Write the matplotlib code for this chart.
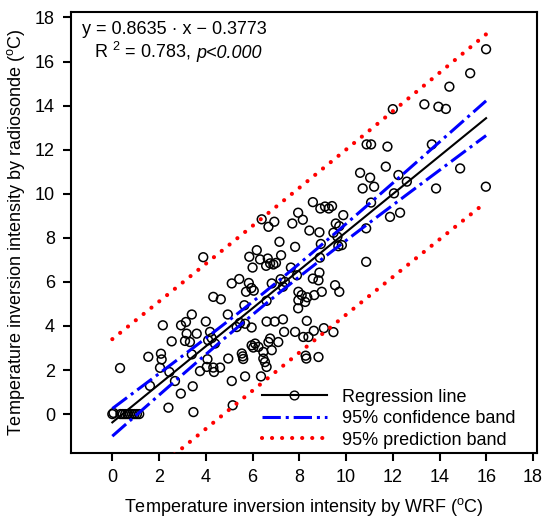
import numpy as np
import matplotlib.pyplot as plt
from matplotlib.lines import Line2D

plt.rcParams['font.family'] = ['Liberation Sans', 'DejaVu Sans']
plt.rcParams['mathtext.fontset'] = 'custom'
plt.rcParams['mathtext.rm'] = 'Liberation Sans'
plt.rcParams['mathtext.it'] = 'Liberation Sans:italic'

# inversion intensity pairs (WRF, radiosonde)
wrf = [0.0, 0.05, 0.35, 0.45, 0.55, 0.65, 0.75, 0.85, 0.95, 1.05, 1.15,
       0.33, 1.61, 2.4, 2.93, 3.44, 3.47, 2.68, 2.44, 2.04, 2.11, 2.08, 1.54, 2.54, 2.16, 2.94,
       3.15, 3.4, 3.18, 3.61, 3.32, 3.11, 3.4, 3.89,
       4.0, 4.18, 4.25, 4.39, 4.1, 4.32, 4.64, 4.94, 4.07, 3.75, 4.04, 4.32, 4.35, 4.61, 4.96,
       5.11, 5.15, 5.32,
       5.11, 5.43, 5.84, 5.95, 5.72, 6.05,
       5.65, 5.46, 5.68, 5.96, 6.6, 6.95, 7.3, 6.6,
       5.96, 6.03, 6.11, 6.25, 6.46, 6.75, 6.68, 7.1, 6.82,
       5.54, 5.58, 5.6, 6.46, 6.53, 6.6, 5.68, 6.36,
       8.27, 8.3, 8.82,
       7.82, 8.17, 8.39, 8.62, 9.05, 9.46, 7.35, 8.32,
       7.96, 8.1, 8.34, 8.64, 8.96, 7.96, 8.25, 7.95,
       7.9, 8.58, 8.86, 8.82, 9.53, 9.71,
       6.82, 7.2, 7.38, 7.3,
       6.18, 5.86, 6.32, 6.65, 6.75, 6.58, 6.0, 6.89, 7.0, 7.64, 7.22,
       7.15, 7.82, 6.39, 6.68, 6.93,
       7.95, 8.15, 7.7,
       8.58, 8.9, 9.1, 9.26, 9.4, 9.88,
       8.43, 8.86, 9.46, 9.56, 9.71, 9.63, 8.92, 8.88, 9.67, 9.82,
       10.86, 10.86, 11.07, 11.88, 12.31, 10.71, 11.2, 12.05, 10.6, 11.03, 11.7, 12.24, 12.6,
       13.85, 14.88, 15.98, 10.88, 11.07, 11.77, 13.67, 12.0, 13.35, 13.95, 14.27, 14.42,
       15.31, 15.99]
sonde = [0.0, 0.05, 0.0, 0.0, 0.0, 0.0, 0.0, 0.0, 0.0, 0.0, 0.0,
         2.09, 1.28, 0.29, 0.93, 1.26, 0.09, 1.5, 1.91, 2.1, 2.48, 2.74, 2.6, 3.3, 4.03, 4.03,
         4.18, 4.52, 3.65, 3.65, 3.27, 3.32, 2.71, 7.12,
         4.2, 3.73, 3.45, 3.2, 3.35, 5.32, 5.21, 4.52, 2.49, 1.95, 2.14, 2.11, 1.91, 2.11, 2.52,
         1.5, 0.4, 3.95,
         5.93, 6.13, 5.95, 5.72, 5.55, 5.6,
         4.94, 4.14, 4.1, 3.93, 4.2, 4.2, 4.3, 5.14,
         3.12, 3.02, 3.2, 3.05, 2.82, 3.43, 3.27, 3.27, 2.9,
         2.75, 2.62, 2.5, 2.52, 2.36, 2.14, 1.71, 1.71,
         2.65, 2.52, 2.59,
         3.73, 3.5, 3.5, 3.78, 3.9, 3.72, 3.73, 4.23,
         5.55, 5.4, 5.3, 5.4, 5.55, 5.17, 5.09, 4.8,
         6.3, 6.15, 6.42, 6.07, 5.85, 5.55,
         5.93, 6.12, 6.0, 5.78,
         7.44, 7.14, 7.02, 7.06, 6.84, 6.73, 6.65, 6.79, 6.86, 6.65, 7.21,
         7.82, 7.59, 8.84, 8.5, 8.73,
         9.14, 8.82, 8.65,
         9.62, 9.33, 9.42, 9.33, 9.44, 9.03,
         8.33, 8.25, 8.23, 8.65, 8.53, 8.05, 7.72, 7.1, 7.62, 7.67,
         6.91, 8.43, 9.6, 8.95, 9.14, 10.24, 10.32, 10.02, 10.95, 10.73, 11.23, 10.85, 10.55,
         10.24, 11.15, 10.32, 12.24, 12.24, 12.14, 12.24, 13.84, 14.06, 13.95, 13.85, 14.86,
         15.47, 16.56]

# regression reported on the chart
slope = 0.8635
intercept = -0.3773
r2 = 0.783
t_crit = 1.974

xticks = list(range(0, 19, 2))
yticks = list(range(0, 19, 2))

x = np.array(wrf)
y = np.array(sonde)
n = len(x)
# residual spread about the reported line
resid = y - (slope * x + intercept)
s = np.sqrt(np.sum(resid ** 2) / (n - 2))
sxx = np.sum((x - x.mean()) ** 2)

xs = np.linspace(x.min(), x.max(), 300)
fit = slope * xs + intercept
ci = t_crit * s * np.sqrt(1 / n + (xs - x.mean()) ** 2 / sxx)
pi = t_crit * s * np.sqrt(1 + 1 / n + (xs - x.mean()) ** 2 / sxx)

fig = plt.figure(figsize=(5.5, 5.25), dpi=100)
ax = fig.add_axes([0.129, 0.137, 0.847, 0.841])

ax.scatter(x, y, s=40, facecolors='none', edgecolors='k', linewidths=1.1, zorder=3)
ax.plot(xs, fit, color='k', lw=1.5, zorder=4)
dashdot = (0, (6, 1.6, 1, 1.6))
ax.plot(xs, fit + ci, color='blue', lw=2.2, linestyle=dashdot, zorder=4)
ax.plot(xs, fit - ci, color='blue', lw=2.2, linestyle=dashdot, zorder=4)
dots = (0, (0.01, 2.4))
ax.plot(xs, fit + pi, color='red', lw=3, linestyle=dots, dash_capstyle='round', zorder=4)
ax.plot(xs, fit - pi, color='red', lw=3, linestyle=dots, dash_capstyle='round', zorder=4)

ax.set_xlim(-1.77, 18.16)
ax.set_ylim(-1.77, 18.27)
ax.set_xticks(xticks)
ax.set_yticks(yticks)
ax.tick_params(direction='out', length=5.5, width=1.5, labelsize=13, pad=6)
for sp in ax.spines.values():
    sp.set_linewidth(1.5)

ax.set_xlabel(r'Temperature inversion intensity by WRF ($^{\rm o}$C)', fontsize=13, labelpad=7)
ax.set_ylabel(r'Temperature inversion intensity by radiosonde ($^{\rm o}$C)', fontsize=13, labelpad=6)

ax.text(0.023, 0.96, 'y = 0.8635 \u00b7 x \u2212 0.3773', transform=ax.transAxes,
        fontsize=13, va='center', ha='left')
t1 = ax.text(0.05, 0.895, 'R $^{2}$ = %.3f,' % r2, transform=ax.transAxes,
             fontsize=13, va='baseline', ha='left')
ax.annotate('p<0.000', xy=(1, 0), xycoords=t1, xytext=(4, 0), textcoords='offset points',
            va='bottom', ha='left', fontsize=13, style='italic')

handles = [
    Line2D([], [], color='k', lw=1.5, marker='o', mfc='none', mec='k', ms=6.3, markevery=[0]),
    Line2D([], [], color='blue', lw=2.2, linestyle=dashdot),
    Line2D([], [], color='red', lw=3, linestyle=dots, dash_capstyle='round'),
]
labels = ['Regression line', '95% confidence band', '95% prediction band']
ax.legend(handles, labels, loc='lower left', bbox_to_anchor=(0.41, 0.01), frameon=False,
          fontsize=13, handlelength=3.6, handletextpad=0.85, labelspacing=0.25,
          borderpad=0, borderaxespad=0)

fig.savefig('out.png', dpi=100)
